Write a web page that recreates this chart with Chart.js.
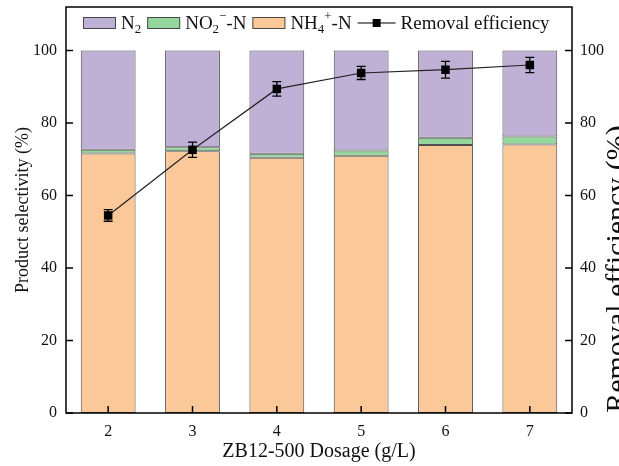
<!DOCTYPE html>
<html>
<head>
<meta charset="utf-8">
<script src="https://cdn.jsdelivr.net/npm/chart.js@4"></script>
<style>
  html, body { margin: 0; padding: 0; background: #fff; }
  #wrap { width: 619px; height: 466px; position: relative; }
</style>
</head>
<body>
<div id="wrap"><canvas id="chart"></canvas></div>
<script>
const categories  = ['2', '3', '4', '5', '6', '7'];
const nh4         = [71.6, 72.2, 70.4, 71.0, 73.9, 74.1];
const no2         = [1.0, 1.1, 1.1, 1.4, 2.0, 2.2];
const n2          = [27.4, 26.7, 28.5, 27.6, 24.1, 23.7];
const removal     = [54.5, 72.6, 89.4, 93.8, 94.7, 96.0];
const removalErr  = [1.6, 2.1, 2.0, 1.8, 2.3, 2.1];
const yTicks      = [0, 20, 40, 60, 80, 100];

const SERIF   = "'Liberation Serif', 'Times New Roman', serif";
const PURPLE  = '#bfb0d6';
const GREEN   = '#95d69c';
const ORANGE  = '#fbc89a';
const OUTLINE = 'rgba(60,60,60,0.9)';
const TICK_LEN = 7;

const keepTicks = scale => {
  scale.ticks = yTicks.map(v => ({ value: v }));
};

// no extra room for half tick labels, the frame is fixed
const fitY = w => s => {
  s.width = w;
  s.paddingTop = 0;
  s.paddingBottom = 0;
};

// frame + inward ticks + error bars
const framePlugin = {
  id: 'frame',
  afterDatasetsDraw(chart) {
    const { ctx, chartArea: a, scales } = chart;
    const meta = chart.getDatasetMeta(3);
    const y1 = scales.y1;

    ctx.save();
    ctx.strokeStyle = '#000';
    ctx.lineWidth = 1.3;
    meta.data.forEach((pt, i) => {
      const top = y1.getPixelForValue(removal[i] + removalErr[i]);
      const bot = y1.getPixelForValue(removal[i] - removalErr[i]);
      ctx.beginPath();
      ctx.moveTo(pt.x, top); ctx.lineTo(pt.x, bot);
      ctx.moveTo(pt.x - 4.5, top); ctx.lineTo(pt.x + 4.5, top);
      ctx.moveTo(pt.x - 4.5, bot); ctx.lineTo(pt.x + 4.5, bot);
      ctx.stroke();
    });

    ctx.lineWidth = 1.5;
    ctx.strokeRect(a.left, a.top, a.right - a.left, a.bottom - a.top);

    ctx.beginPath();
    yTicks.forEach(v => {
      const py = scales.y.getPixelForValue(v);
      ctx.moveTo(a.left, py);  ctx.lineTo(a.left + TICK_LEN, py);
      ctx.moveTo(a.right, py); ctx.lineTo(a.right - TICK_LEN, py);
    });
    categories.forEach((c, i) => {
      const px = scales.x.getPixelForValue(i);
      ctx.moveTo(px, a.bottom); ctx.lineTo(px, a.bottom - TICK_LEN);
    });
    ctx.stroke();
    ctx.restore();
  }
};

// rich text helper: segments with optional sub / sup
function drawRich(ctx, x, y, parts, size) {
  parts.forEach(p => {
    const small = p.sub || p.sup;
    const fs = small ? size * 0.68 : size;
    ctx.font = `${fs}px ${SERIF}`;
    const dy = p.sub ? size * 0.28 : p.sup ? -size * 0.38 : 0;
    ctx.fillText(p.t, x, y + dy);
    x += ctx.measureText(p.t).width;
  });
  return x;
}

const legendItems = [
  { color: PURPLE, parts: [{ t: 'N' }, { t: '2', sub: true }] },
  { color: GREEN,  parts: [{ t: 'NO' }, { t: '2', sub: true }, { t: '\u2212', sup: true }, { t: '-N' }] },
  { color: ORANGE, parts: [{ t: 'NH' }, { t: '4', sub: true }, { t: '+', sup: true }, { t: '-N' }] },
  { line: true,    parts: [{ t: 'Removal efficiency' }] }
];

const legendPlugin = {
  id: 'insideLegend',
  afterDraw(chart) {
    const { ctx, chartArea: a } = chart;
    const size = 19;
    const cy = a.top + 16;
    let x = a.left + 17;

    ctx.save();
    ctx.textBaseline = 'middle';
    ctx.fillStyle = '#111';
    legendItems.forEach(item => {
      if (item.line) {
        ctx.strokeStyle = '#000';
        ctx.lineWidth = 1.2;
        ctx.beginPath();
        ctx.moveTo(x, cy); ctx.lineTo(x + 38, cy);
        ctx.stroke();
        ctx.fillStyle = '#000';
        ctx.fillRect(x + 15, cy - 4, 8, 8);
        x += 43;
      } else {
        ctx.fillStyle = item.color;
        ctx.fillRect(x, cy - 6, 33, 12);
        ctx.strokeStyle = OUTLINE;
        ctx.lineWidth = 1;
        ctx.strokeRect(x + 0.5, cy - 5.5, 32, 11);
        x += 38;
      }
      ctx.fillStyle = '#111';
      x = drawRich(ctx, x, cy + 1, item.parts, size) + 6;
    });
    ctx.restore();

    // right axis title, reading bottom to top, cut by the page edge as in the figure
    ctx.save();
    ctx.font = `30px ${SERIF}`;
    ctx.fillStyle = '#111';
    ctx.textAlign = 'center';
    ctx.textBaseline = 'alphabetic';
    ctx.translate(626, 269);
    ctx.rotate(-Math.PI / 2);
    ctx.fillText('Removal efficiency (%)', 0, 0);
    ctx.restore();
  }
};

const barCommon = {
  type: 'bar',
  stack: 'sel',
  yAxisID: 'y',
  borderColor: OUTLINE,
  borderWidth: 1,
  borderSkipped: false,
  barPercentage: 0.65,
  categoryPercentage: 1.0,
  order: 2
};

new Chart(document.querySelector('#chart'), {
  data: {
    labels: categories,
    datasets: [
      { ...barCommon, label: 'NH4+-N', data: nh4, backgroundColor: ORANGE },
      { ...barCommon, label: 'NO2--N', data: no2, backgroundColor: GREEN },
      { ...barCommon, label: 'N2',     data: n2,  backgroundColor: PURPLE },
      {
        type: 'line',
        label: 'Removal efficiency',
        data: removal,
        yAxisID: 'y1',
        borderColor: '#222',
        borderWidth: 1.2,
        tension: 0,
        pointStyle: 'rect',
        pointRadius: 6,
        pointBackgroundColor: '#000',
        pointBorderColor: '#000',
        pointBorderWidth: 0,
        order: 1
      }
    ]
  },
  options: {
    responsive: true,
    maintainAspectRatio: false,
    animation: false,
    layout: { padding: { top: 7, left: 0, right: 0, bottom: 0 } },
    plugins: { legend: { display: false }, tooltip: { enabled: false } },
    scales: {
      x: {
        stacked: true,
        offset: true,
        grid: { display: false, drawTicks: false },
        border: { display: false },
        ticks: { font: { family: SERIF, size: 16 }, color: '#111', padding: 9 },
        title: {
          display: true,
          text: 'ZB12-500 Dosage (g/L)',
          font: { family: SERIF, size: 20 },
          color: '#111',
          padding: { top: 0, bottom: 2 }
        },
        afterFit: s => { s.height = 53; s.paddingLeft = 0; s.paddingRight = 0; }
      },
      y: {
        position: 'left',
        stacked: true,
        min: 0, max: 112,
        afterBuildTicks: keepTicks,
        grid: { display: false, drawTicks: false },
        border: { display: false },
        ticks: { font: { family: SERIF, size: 16 }, color: '#111', padding: 9 },
        title: {
          display: true,
          text: 'Product selectivity (%)',
          font: { family: SERIF, size: 18 },
          color: '#111',
          padding: { top: 12, bottom: 0 }
        },
        afterFit: fitY(66)
      },
      y1: {
        position: 'right',
        min: 0, max: 112,
        afterBuildTicks: keepTicks,
        grid: { display: false, drawTicks: false },
        border: { display: false },
        ticks: { font: { family: SERIF, size: 16 }, color: '#111', padding: 8 },
        afterFit: fitY(47)
      }
    }
  },
  plugins: [framePlugin, legendPlugin]
});
</script>
</body>
</html>
